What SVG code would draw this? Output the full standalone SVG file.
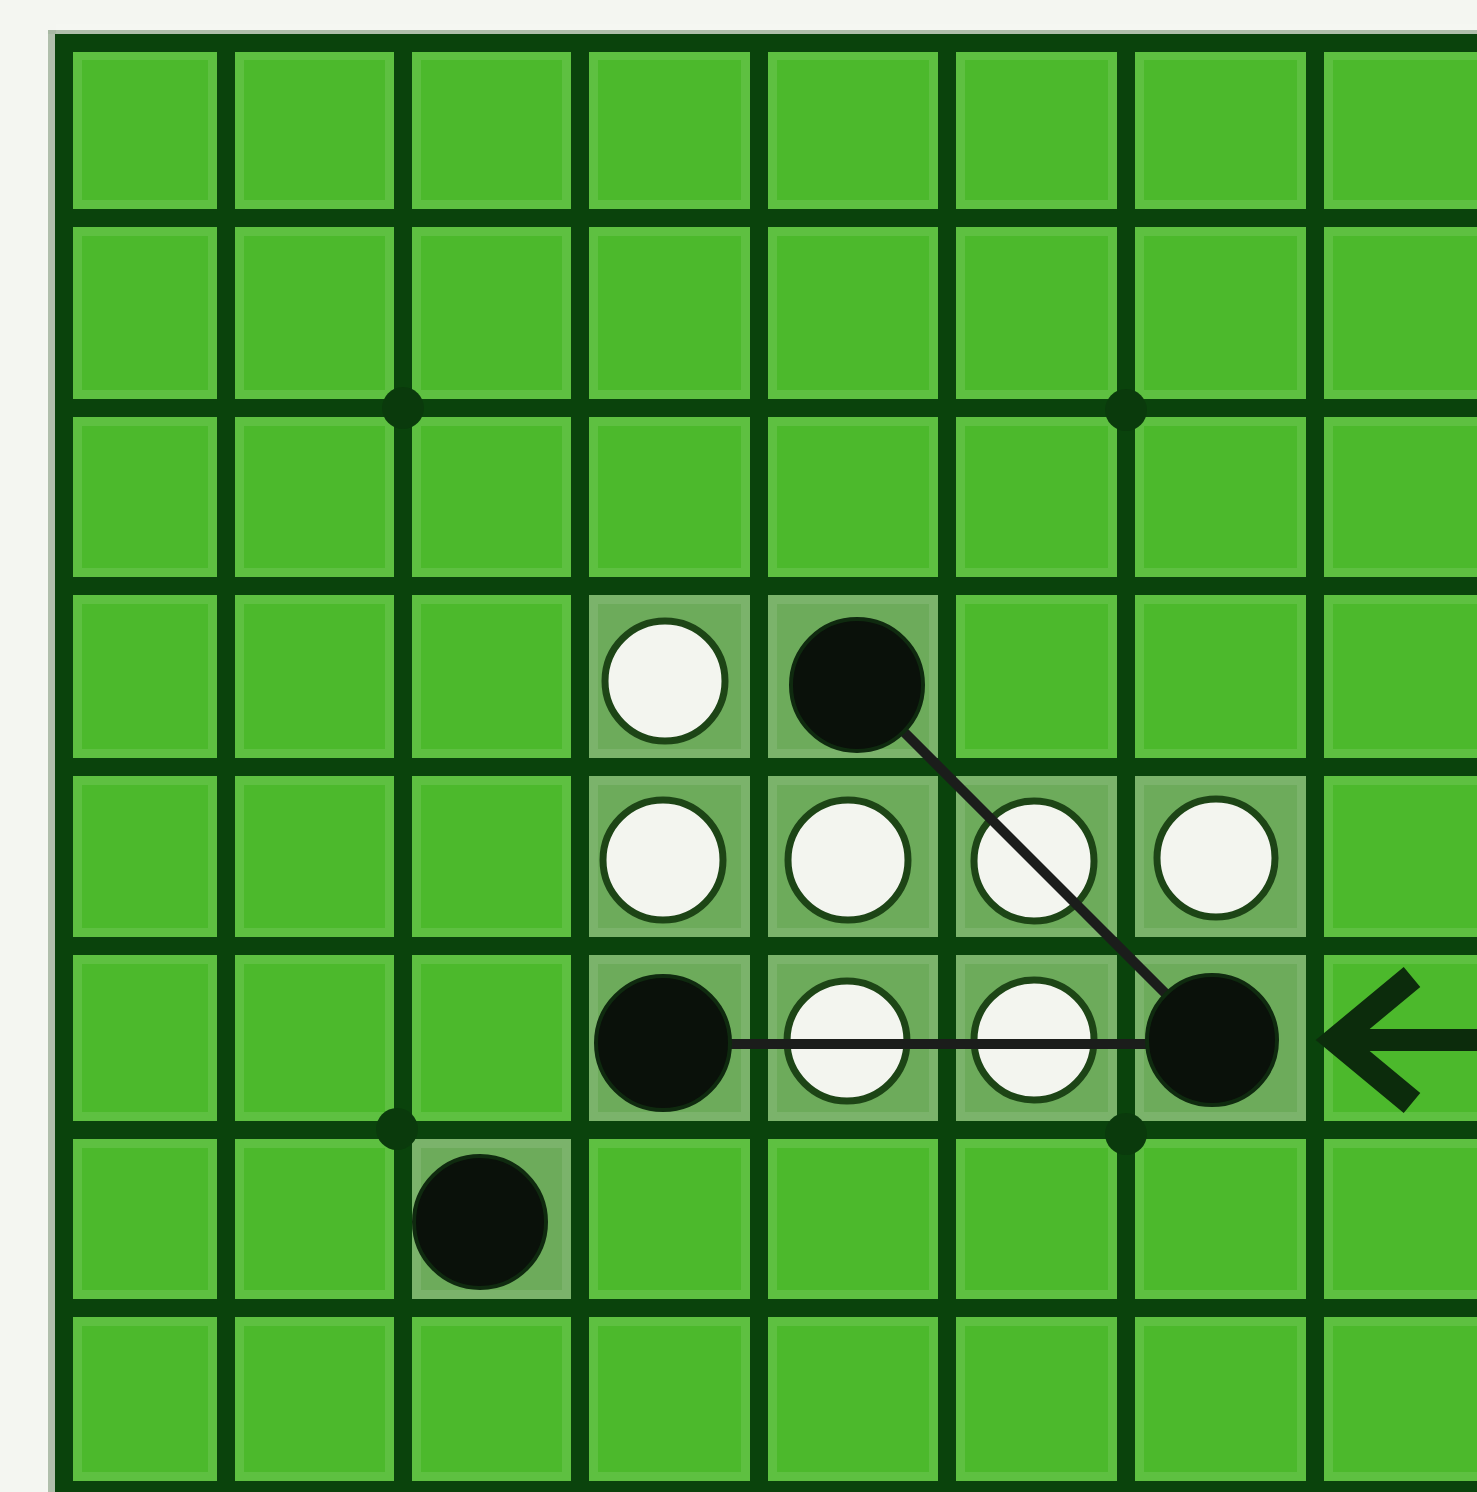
<svg xmlns="http://www.w3.org/2000/svg" width="1477" height="1492" viewBox="0 0 1477 1492">
<style>
.grid{stroke:#0a430c;stroke-width:18;fill:none}
.halo{stroke:#ffffff;stroke-opacity:0.1;stroke-width:36;fill:none}
.hl{fill:#6dab5b}
.white{fill:#f3f5ef;stroke:#1d4516;stroke-width:7}
.black{fill:#0a110a;stroke:#0f2a0f;stroke-width:4}
.flip{stroke:#1b1d1b;stroke-width:10;fill:none}
.star{fill:#0a3a0c}
.arrow{stroke:#0c2c0c;fill:none}
</style>
<rect width="1477" height="1492" fill="#f4f6f1"/>
<g id="board">
<rect x="48" y="30" width="1460" height="1480" fill="#a7b8a3"/>
<rect x="56" y="36" width="1450" height="1470" fill="#4cb92c"/>
</g>
<g id="highlight">
<rect class="hl" x="580" y="586" width="367" height="181"/>
<rect class="hl" x="580" y="767" width="735" height="363"/>
<rect class="hl" x="403" y="1130" width="177" height="178"/>
</g>
<g id="halo">
<path class="halo" d="M226 34V1500M403 34V1500M580 34V1500M759 34V1500M947 34V1500M1126 34V1500M1315 34V1500M64 34V1500M56 42H1490M56 218H1490M56 408H1490M56 586H1490M56 767H1490M56 946H1490M56 1130H1490M56 1308H1490M56 1490H1490"/>
</g>
<g id="grid">
<path class="grid" d="M226 34V1500M403 34V1500M580 34V1500M759 34V1500M947 34V1500M1126 34V1500M1315 34V1500M56 218H1490M56 408H1490M56 586H1490M56 767H1490M56 946H1490M56 1130H1490M56 1308H1490M56 1490H1490"/>
<path class="grid" stroke-width="19" d="M64 34V1500M56 43H1490"/>
</g>
<g id="stars">
<circle class="star" cx="403" cy="408" r="21"/>
<circle class="star" cx="1126" cy="410" r="21"/>
<circle class="star" cx="397" cy="1129" r="21"/>
<circle class="star" cx="1126" cy="1134" r="21"/>
</g>
<g id="white-pieces">
<circle id="w-d4" class="white" cx="665" cy="681" r="60"/>
<circle id="w-d5" class="white" cx="663" cy="860" r="60"/>
<circle id="w-e5" class="white" cx="848" cy="860" r="60"/>
<circle id="w-f5" class="white" cx="1034" cy="861" r="60"/>
<circle id="w-g5" class="white" cx="1216" cy="858" r="59"/>
<circle id="w-e6" class="white" cx="847" cy="1041" r="60"/>
<circle id="w-f6" class="white" cx="1034" cy="1040" r="60"/>
</g>
<g id="connectors">
<line class="flip" x1="663" y1="1044" x2="1212" y2="1044"/>
<line class="flip" x1="857" y1="685" x2="1212" y2="1040"/>
<polyline class="arrow" stroke-width="26" stroke-linejoin="miter" points="1412,977 1336,1040 1412,1103"/>
<line class="arrow" stroke-width="22" x1="1345" y1="1040" x2="1490" y2="1040"/>
</g>
<g id="black-pieces">
<circle id="b-e4" class="black" cx="857" cy="685" r="66"/>
<circle id="b-d6" class="black" cx="663" cy="1043" r="67"/>
<circle id="b-g6" class="black" cx="1212" cy="1040" r="65"/>
<circle id="b-c7" class="black" cx="480" cy="1222" r="66"/>
</g>
</svg>
